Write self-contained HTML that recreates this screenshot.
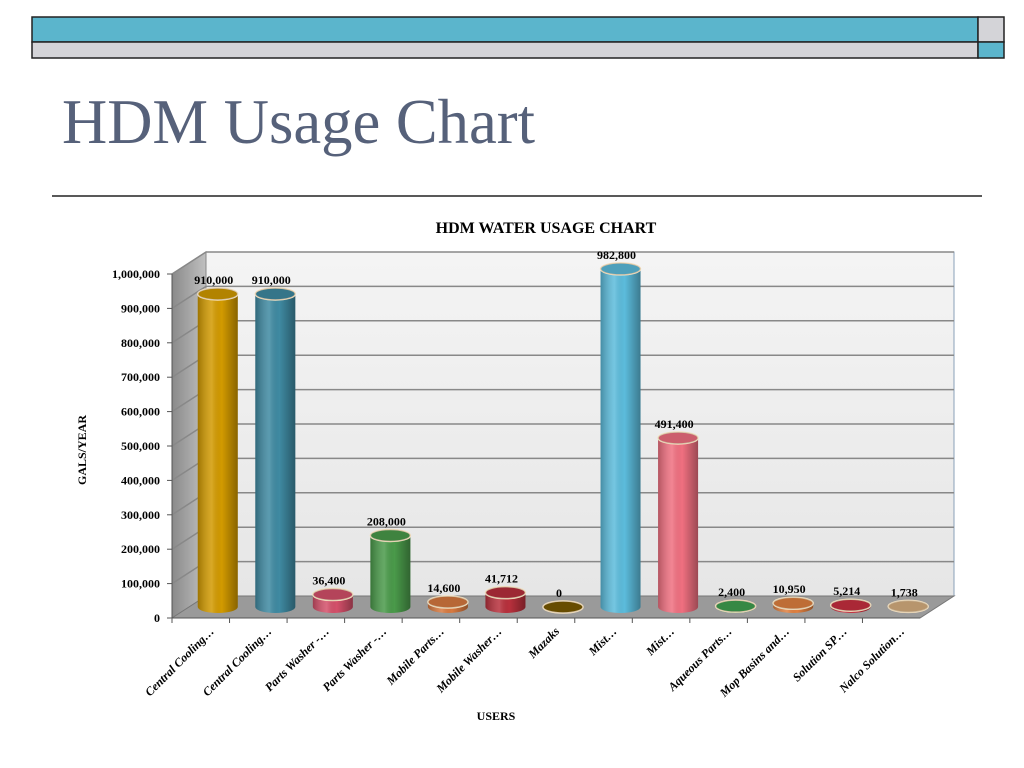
<!DOCTYPE html>
<html><head><meta charset="utf-8"><style>
body{margin:0;width:1024px;height:768px;background:#fff;overflow:hidden;font-family:"Liberation Serif",serif}
svg{display:block}
</style></head><body>
<svg width="1024" height="768" xmlns="http://www.w3.org/2000/svg">
<defs>
<linearGradient id="sideW" x1="0" x2="1"><stop offset="0" stop-color="#8a8a8a"/><stop offset="1" stop-color="#c0c0c0"/></linearGradient>
<linearGradient id="backW" x1="0" y1="0" x2="0" y2="1"><stop offset="0" stop-color="#f4f4f4"/><stop offset="1" stop-color="#e6e6e6"/></linearGradient>
<linearGradient id="shade" x1="0" x2="1"><stop offset="0" stop-color="#000" stop-opacity="0.25"/><stop offset="0.35" stop-color="#fff" stop-opacity="0.15"/><stop offset="0.6" stop-color="#000" stop-opacity="0"/><stop offset="1" stop-color="#000" stop-opacity="0.35"/></linearGradient>
</defs>
<rect x="32" y="17" width="946" height="25" fill="#5bb5cc" stroke="#222" stroke-width="1.5"/>
<rect x="978" y="17" width="26" height="25" fill="#d4d4d8" stroke="#222" stroke-width="1.5"/>
<rect x="32" y="42" width="946" height="16" fill="#d4d4d8" stroke="#222" stroke-width="1.5"/>
<rect x="978" y="42" width="26" height="16" fill="#5bb5cc" stroke="#222" stroke-width="1.5"/>
<text x="62" y="143" font-size="64" fill="#56617a" textLength="473" lengthAdjust="spacingAndGlyphs">HDM Usage Chart</text>
<line x1="52" y1="196" x2="982" y2="196" stroke="#222" stroke-width="1.5"/>
<text x="546" y="233" font-size="16" font-weight="bold" text-anchor="middle">HDM WATER USAGE CHART</text>
<text transform="translate(86,450) rotate(-90)" font-size="12" font-weight="bold" text-anchor="middle">GALS/YEAR</text>
<text x="496" y="720" font-size="12" font-weight="bold" text-anchor="middle">USERS</text>
<g id="chart"></g>
</svg>
<script>
const categories=["Central Cooling…","Central Cooling…","Parts Washer -…","Parts Washer -…","Mobile Parts…","Mobile Washer…","Mazaks","Mist…","Mist…","Aqueous Parts…","Mop Basins and…","Solution SP…","Nalco Solution…"];
const values=[910000,910000,36400,208000,14600,41712,0,982800,491400,2400,10950,5214,1738];
const valueLabels=["910,000","910,000","36,400","208,000","14,600","41,712","0","982,800","491,400","2,400","10,950","5,214","1,738"];
const colors=["#d29a00","#3f8aa2","#d4506a","#4a9a4a","#d87a40","#b8303c","#7a5a00","#5cbcdc","#f07080","#40a050","#e08040","#c83040","#d8b080"];
const yTicks=[0,100000,200000,300000,400000,500000,600000,700000,800000,900000,1000000];
const yTickLabels=["0","100,000","200,000","300,000","400,000","500,000","600,000","700,000","800,000","900,000","1,000,000"];
const NS="http://www.w3.org/2000/svg";
const g=document.getElementById('chart');
const X0=172,X1=920,Y0=618,DX=34,DY=-22,H=344,MAX=1000000;
const n=categories.length,cw=(X1-X0)/n;
function yFront(v){return Y0-v/MAX*H;}
function xCenter(i){return X0+cw*(i+0.5);}
function mk(tag,attrs,parent){const e=document.createElementNS(NS,tag);for(const k in attrs)e.setAttribute(k,attrs[k]);(parent||g).appendChild(e);return e;}
// walls
let w=mk('polygon',{points:`${X0+DX},${Y0+DY-H} ${X1+DX},${Y0+DY-H} ${X1+DX},${Y0+DY} ${X0+DX},${Y0+DY}`,fill:'url(#backW)',stroke:'#8aa0b8'});


w=mk('polygon',{points:`${X0},${Y0-H} ${X0+DX},${Y0+DY-H} ${X0+DX},${Y0+DY} ${X0},${Y0}`,fill:'url(#sideW)',stroke:'#888'});


yTicks.forEach((t,i)=>{
  const y=yFront(t);
  if(t>0){const l=mk('polyline',{points:`${X0},${y} ${X0+DX},${y+DY} ${X1+DX},${y+DY}`,fill:'none',stroke:'#888','stroke-width':1.5});
  
  }
  const tx=mk('text',{x:X0-12,y:y+4,'font-size':12,'font-weight':'bold','text-anchor':'end'});
  tx.textContent=yTickLabels[i];
  
  
  const tk=mk('line',{x1:X0-5,y1:y,x2:X0,y2:y,stroke:'#555'});
  
  
});
w=mk('polygon',{points:`${X0},${Y0} ${X0+DX},${Y0+DY} ${X1+DX},${Y0+DY} ${X1},${Y0}`,fill:'#9a9a9a',stroke:'#777'});


mk('line',{x1:X0,y1:Y0,x2:X1,y2:Y0,stroke:'#555'});
mk('line',{x1:X0,y1:Y0-H,x2:X0,y2:Y0,stroke:'#555'});
values.forEach((v,i)=>{
  const cx=xCenter(i)+DX/2,base=Y0+DY/2,top=base-v/MAX*H,r=20,ry=6;
  const grp=mk('g',{});
  
  
  mk('path',{d:`M${cx-r},${top} L${cx-r},${base} A${r},${ry} 0 0 0 ${cx+r},${base} L${cx+r},${top} Z`,fill:colors[i]},grp);
  mk('path',{d:`M${cx-r},${top} L${cx-r},${base} A${r},${ry} 0 0 0 ${cx+r},${base} L${cx+r},${top} Z`,fill:'url(#shade)'},grp);
  mk('ellipse',{cx:cx,cy:top,rx:r,ry:ry,fill:colors[i],stroke:'#f4e0c0','stroke-width':1.5},grp);
  mk('ellipse',{cx:cx,cy:top,rx:r,ry:ry,fill:'#000','fill-opacity':0.15},grp);
  const lb=mk('text',{x:cx-4,y:top-10,'font-size':12,'font-weight':'bold','text-anchor':'middle'});
  lb.textContent=valueLabels[i];
  
  
  const cxl=xCenter(i)+14;
  const xl=mk('text',{transform:`translate(${cxl},${Y0+14}) rotate(-45)`,'font-size':12,'font-weight':'bold','font-style':'italic','text-anchor':'end'});
  xl.textContent=categories[i];
  
  
  const tk=mk('line',{x1:X0+cw*i,y1:Y0,x2:X0+cw*i,y2:Y0+5,stroke:'#555'});
  
  
});
</script>
</body></html>
